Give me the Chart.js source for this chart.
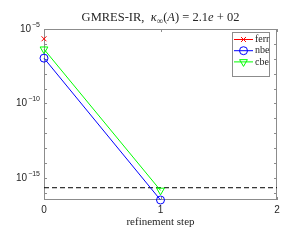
<!DOCTYPE html>
<html>
<head>
<meta charset="utf-8">
<script src="https://cdn.jsdelivr.net/npm/chart.js@4"></script>
<style>
  html, body { margin: 0; padding: 0; background: #fff; }
  #wrap { width: 292px; height: 240px; }
</style>
</head>
<body>
<div id="wrap"><canvas id="gmresChart" width="292" height="240"></canvas></div>
<script>
// data
const steps = [0, 1];
const ferr = [2.2e-6, null];
const nbe = [1.1e-7, 3.3e-17];
const cbe = [4.4e-7, 1.45e-16];
const unitRoundoff = 2.2e-16;
const xTicks = [0, 1, 2];
const yLabelExps = [-5, -10, -15];

const axisColor = '#8c8c8c';
const textColor = '#262626';
const serif = '"Liberation Serif", "DejaVu Serif", serif';
const sans = '"Liberation Sans", Arial, sans-serif';

function pts(vals) {
  return steps.map((s, i) => ({ x: s, y: vals[i] }));
}

const legendItems = [
  { label: 'ferr', color: 'rgb(255,0,0)', style: 'crossRot', r: 3.5, rot: 0 },
  { label: 'nbe', color: 'rgb(0,0,255)', style: 'circle', r: 4, rot: 0 },
  { label: 'cbe', color: 'rgb(0,255,0)', style: 'triangle', r: 4.5, rot: 180 },
];

const decor = {
  id: 'decor',
  beforeDatasetsDraw(chart) {
    const { ctx, chartArea: a, scales: { x, y } } = chart;
    ctx.save();
    ctx.strokeStyle = axisColor;
    ctx.lineWidth = 1;
    ctx.strokeRect(Math.round(a.left) + 0.5, Math.round(a.top) + 0.5,
      Math.round(a.right - a.left) - 1, Math.round(a.bottom - a.top) - 1);
    // inward ticks
    ctx.beginPath();
    y.ticks.forEach(t => {
      const py = Math.round(y.getPixelForValue(t.value)) + 0.5;
      ctx.moveTo(a.left, py); ctx.lineTo(a.left + 3, py);
      ctx.moveTo(a.right, py); ctx.lineTo(a.right - 3, py);
    });
    xTicks.forEach(v => {
      const px = Math.round(x.getPixelForValue(v)) + 0.5;
      ctx.moveTo(px, a.bottom); ctx.lineTo(px, a.bottom - 3);
      ctx.moveTo(px, a.top); ctx.lineTo(px, a.top + 3);
    });
    ctx.stroke();
    // y tick labels with raised exponent
    ctx.fillStyle = textColor;
    ctx.textBaseline = 'middle';
    yLabelExps.forEach(e => {
      const py = y.getPixelForValue(Math.pow(10, e));
      const es = String(e).replace('-', '\u2212');
      ctx.font = '7px ' + sans;
      ctx.textAlign = 'right';
      const ew = ctx.measureText(es).width;
      ctx.fillText(es, a.left - 4, py - 4);
      ctx.font = '10px ' + sans;
      ctx.fillText('10', a.left - 5 - ew, py);
    });
    ctx.restore();
  },
  afterDraw(chart) {
    const { ctx, chartArea: a } = chart;
    ctx.save();
    ctx.fillStyle = textColor;
    // title with math pieces
    const fs = 12.5;
    const parts = [
      { t: 'GMRES-IR,  ', f: fs + 'px ' + serif, dy: 0 },
      { t: '\u03BA', f: 'italic ' + fs + 'px ' + serif, dy: 0 },
      { t: '\u221E', f: '9px ' + serif, dy: 3 },
      { t: '(', f: fs + 'px ' + serif, dy: 0 },
      { t: 'A', f: 'italic ' + fs + 'px ' + serif, dy: 0 },
      { t: ') = 2.1', f: fs + 'px ' + serif, dy: 0 },
      { t: 'e', f: 'italic ' + fs + 'px ' + serif, dy: 0 },
      { t: ' + 02', f: fs + 'px ' + serif, dy: 0 },
    ];
    let total = 0;
    parts.forEach(p => { ctx.font = p.f; p.w = ctx.measureText(p.t).width; total += p.w; });
    let tx = (a.left + a.right) / 2 - total / 2;
    ctx.textAlign = 'left';
    ctx.textBaseline = 'alphabetic';
    parts.forEach(p => { ctx.font = p.f; ctx.fillText(p.t, tx, 21 + p.dy); tx += p.w; });
    // x axis title
    ctx.font = '11px ' + serif;
    ctx.textAlign = 'center';
    ctx.textBaseline = 'middle';
    ctx.fillText('refinement step', (a.left + a.right) / 2, 222);
    // legend box
    const bx = 232, by = 32.5, bw = 37, bh = 44;
    ctx.fillStyle = '#fff';
    ctx.fillRect(bx, by, bw, bh);
    ctx.strokeStyle = axisColor;
    ctx.lineWidth = 1;
    ctx.strokeRect(bx + 0.5, by, bw, bh);
    legendItems.forEach((it, i) => {
      const ly = 39.5 + i * 11.2;
      ctx.strokeStyle = it.color;
      ctx.fillStyle = 'rgba(0,0,0,0)';
      ctx.lineWidth = 1;
      ctx.beginPath(); ctx.moveTo(234, ly); ctx.lineTo(253, ly); ctx.stroke();
      Chart.helpers.drawPoint(ctx, { pointStyle: it.style, radius: it.r, rotation: it.rot, borderWidth: 1 }, 243.5, ly);
      ctx.fillStyle = textColor;
      ctx.font = '10px ' + serif;
      ctx.textAlign = 'left';
      ctx.textBaseline = 'middle';
      ctx.fillText(it.label, 255, ly);
    });
    ctx.restore();
  }
};

const ctx = document.getElementById('gmresChart').getContext('2d');
new Chart(ctx, {
  type: 'line',
  data: {
    datasets: [
      {
        label: 'ferr', data: pts(ferr), borderColor: 'rgb(255,0,0)', backgroundColor: 'transparent',
        borderWidth: 1, pointStyle: 'crossRot', pointRadius: 3.5, pointBorderWidth: 1, clip: false,
      },
      {
        label: 'nbe', data: pts(nbe), borderColor: 'rgb(0,0,255)', backgroundColor: 'transparent',
        borderWidth: 1, pointStyle: 'circle', pointRadius: 4, pointBorderWidth: 1, clip: false,
      },
      {
        label: 'cbe', data: pts(cbe), borderColor: 'rgb(0,255,0)', backgroundColor: 'transparent',
        borderWidth: 1, pointStyle: 'triangle', pointRotation: 180, pointRadius: 4.5, pointBorderWidth: 1, clip: false,
      },
      {
        label: 'u', data: [{ x: 0, y: unitRoundoff }, { x: 2, y: unitRoundoff }], borderColor: '#000',
        borderWidth: 1, borderDash: [5, 3], pointRadius: 0, clip: false,
      },
    ],
  },
  options: {
    animation: false,
    responsive: false,
    layout: { padding: { left: 0, right: 15, top: 29, bottom: 0 } },
    plugins: { legend: { display: false }, title: { display: false }, tooltip: { enabled: false } },
    scales: {
      x: {
        type: 'linear', min: 0, max: 2,
        afterBuildTicks: s => { s.ticks = xTicks.map(v => ({ value: v })); },
        afterFit: s => { s.height = 40; },
        grid: { display: false, drawTicks: false },
        border: { display: false },
        ticks: { padding: 4, color: textColor, font: { family: sans, size: 10 } },
      },
      y: {
        type: 'logarithmic', min: 3.3e-17, max: 1e-5,
        afterBuildTicks: s => {
          const t = [];
          for (let e = -16; e <= -5; e++) t.push({ value: Math.pow(10, e) });
          s.ticks = t;
        },
        afterFit: s => { s.width = 44; },
        grid: { display: false, drawTicks: false },
        border: { display: false },
        ticks: { display: false },
      },
    },
  },
  plugins: [decor],
});
</script>
</body>
</html>
